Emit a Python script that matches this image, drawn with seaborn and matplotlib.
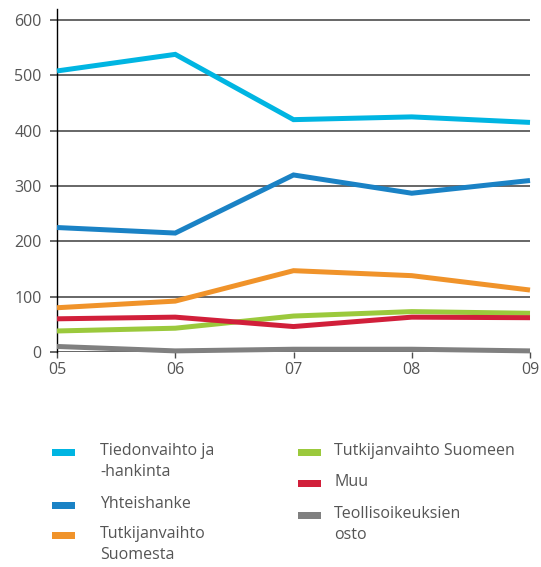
import matplotlib
matplotlib.use('Agg')
import matplotlib.pyplot as plt
import seaborn as sns
import pandas as pd
from matplotlib.patches import Rectangle

# Data
years = ['05', '06', '07', '08', '09']
series_names = ['Tiedonvaihto ja\n-hankinta', 'Yhteishanke', 'Tutkijanvaihto\nSuomesta',
                'Tutkijanvaihto Suomeen', 'Muu', 'Teollisoikeuksien\nosto']
tiedonvaihto = [508, 538, 420, 425, 415]
yhteishanke = [225, 215, 320, 287, 310]
tutkija_suomesta = [80, 92, 147, 138, 112]
tutkija_suomeen = [38, 43, 65, 73, 70]
muu = [60, 63, 46, 63, 62]
teollisoikeudet = [10, 2, 5, 5, 2]
colors = ['#00b5e2', '#1a82c5', '#f0932a', '#9bc93c', '#d11f3a', '#808080']

values = [tiedonvaihto, yhteishanke, tutkija_suomesta, tutkija_suomeen, muu, teollisoikeudet]
rows = []
for name, vals in zip(series_names, values):
    for i, v in enumerate(vals):
        rows.append({'x': i, 'year': years[i], 'series': name, 'value': v})
df = pd.DataFrame(rows)

sns.set_style('white')
plt.rcParams['font.family'] = ['Open Sans', 'DejaVu Sans']

fig = plt.figure(figsize=(5.41, 5.67), dpi=100)
ax = fig.add_axes([57/541, 215/567, 473/541, 343/567])

# gridlines first, behind lines
for yv in range(0, 601, 100):
    ax.axhline(yv, color='#4d4d4d', lw=1.2, zorder=1)

sns.lineplot(data=df, x='x', y='value', hue='series', hue_order=series_names,
             palette=colors, lw=3.6, legend=False, ax=ax, zorder=3)
for ln in ax.get_lines()[-6:]:
    ln.set_clip_on(False)
    ln.set_solid_capstyle('butt')
    ln.set_solid_joinstyle('miter')

ax.set_xlim(0, 4)
ax.set_ylim(0, 620)
ax.set_xticks(range(5))
ax.set_xticklabels(years)
ax.set_yticks(range(0, 601, 100))
ax.set_xlabel('')
ax.set_ylabel('')
for s in ['top', 'right', 'bottom']:
    ax.spines[s].set_visible(False)
ax.spines['left'].set_color('black')
ax.spines['left'].set_linewidth(1.0)
ax.tick_params(axis='y', length=5, color='#4d4d4d', width=1.2, labelsize=11.5,
               labelcolor='#555555', pad=6, left=True)
ax.tick_params(axis='x', length=4, color='#4d4d4d', width=1.0, labelsize=11.5,
               labelcolor='#555555', pad=3, bottom=True, direction='out')

# manual legend
leg_items = [
    (52, 452, 0, 'Tiedonvaihto ja\n-hankinta'),
    (52, 505, 1, 'Yhteishanke'),
    (52, 535, 2, 'Tutkijanvaihto\nSuomesta'),
    (298, 452, 3, 'Tutkijanvaihto Suomeen'),
    (298, 483, 4, 'Muu'),
    (298, 515, 5, 'Teollisoikeuksien\nosto'),
]
W, H = 541, 567
for lx, ly, ci, label in leg_items:
    fig.add_artist(Rectangle((lx / W, 1 - (ly + 4) / H), 23 / W, 7 / H,
                             transform=fig.transFigure, color=colors[ci], lw=0))
    tx = lx + 48 if ci < 3 else lx + 36
    fig.text(tx / W, 1 - (ly - 9) / H, label, fontsize=11.5, color='#555555',
             va='top', ha='left', linespacing=1.45)

fig.savefig('out.png', dpi=100)
